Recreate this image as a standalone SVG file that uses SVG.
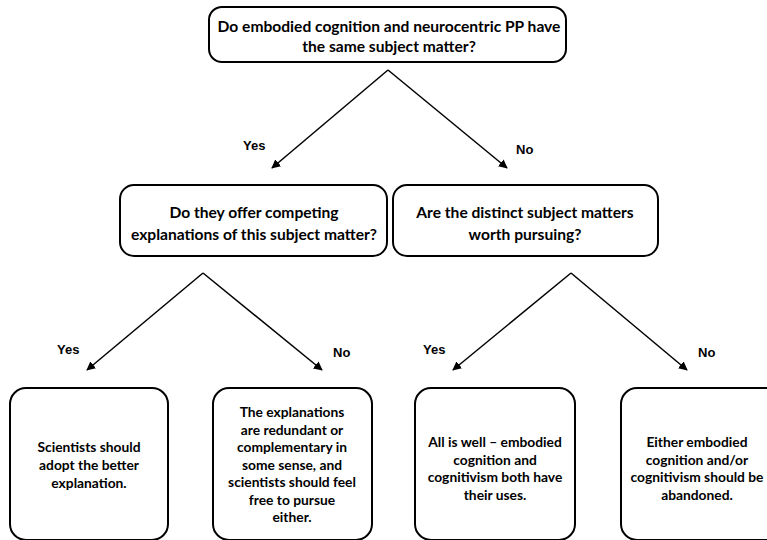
<svg xmlns="http://www.w3.org/2000/svg" width="767" height="540" viewBox="0 0 767 540">
  <style>
    .box { fill: #fff; stroke: #000; stroke-width: 2; }
    .q { font-family: Lato, "Open Sans", sans-serif; font-weight: bold; font-size: 15.6px; text-anchor: middle; fill: #000; }
    .a { font-family: Lato, "Open Sans", sans-serif; font-weight: bold; font-size: 13.8px; text-anchor: middle; fill: #000; }
    .lbl { font-family: "Liberation Sans", Arial, sans-serif; font-weight: bold; font-size: 13px; fill: #000; }
    .edge { stroke: #000; stroke-width: 1.5; fill: none; marker-end: url(#arrow); }
  </style>
  <defs>
    <marker id="arrow" viewBox="0 0 10 10" refX="9" refY="5" markerWidth="9" markerHeight="9" markerUnits="userSpaceOnUse" orient="auto">
      <path d="M0,0 L10,5 L0,10 z" fill="#000"/>
    </marker>
  </defs>
  <rect width="767" height="540" fill="#fff"/>

  <g id="connectors">
    <path class="edge" d="M388,70 L272,168"/>
    <path class="edge" d="M388,70 L507,168"/>
    <path class="edge" d="M203,273 L87,370"/>
    <path class="edge" d="M203,273 L322,370"/>
    <path class="edge" d="M571,273 L453,370"/>
    <path class="edge" d="M571,273 L687,370"/>
    <text class="lbl" x="243" y="150">Yes</text>
    <text class="lbl" x="516" y="154">No</text>
    <text class="lbl" x="57" y="354">Yes</text>
    <text class="lbl" x="333" y="357">No</text>
    <text class="lbl" x="423" y="354">Yes</text>
    <text class="lbl" x="698" y="357">No</text>
  </g>

  <g id="q-same-subject">
    <rect class="box" x="209" y="7" width="357" height="55" rx="13"/>
    <text class="q" x="389" y="32">Do embodied cognition and neurocentric PP have</text>
    <text class="q" x="389" y="52">the same subject matter?</text>
  </g>

  <g id="q-competing">
    <rect class="box" x="120" y="185" width="267" height="71" rx="14"/>
    <text class="q" x="254" y="218">Do they offer competing</text>
    <text class="q" x="254" y="240">explanations of this subject matter?</text>
  </g>

  <g id="q-worth-pursuing">
    <rect class="box" x="393" y="185" width="265" height="71" rx="14"/>
    <text class="q" x="525" y="218">Are the distinct subject matters</text>
    <text class="q" x="525" y="240">worth pursuing?</text>
  </g>

  <g id="a-adopt-better">
    <rect class="box" x="10" y="388" width="158" height="152" rx="16"/>
    <text class="a" x="89" y="452">Scientists should</text>
    <text class="a" x="89" y="470">adopt the better</text>
    <text class="a" x="89" y="488">explanation.</text>
  </g>

  <g id="a-redundant">
    <rect class="box" x="213" y="388" width="159" height="152" rx="16"/>
    <text class="a" x="292" y="417">The explanations</text>
    <text class="a" x="292" y="434.5">are redundant or</text>
    <text class="a" x="292" y="452">complementary in</text>
    <text class="a" x="292" y="469.5">some sense, and</text>
    <text class="a" x="292" y="487">scientists should feel</text>
    <text class="a" x="292" y="504.5">free to pursue</text>
    <text class="a" x="292" y="522">either.</text>
  </g>

  <g id="a-all-well">
    <rect class="box" x="415" y="388" width="160" height="152" rx="16"/>
    <text class="a" x="495" y="447">All is well – embodied</text>
    <text class="a" x="495" y="464.5">cognition and</text>
    <text class="a" x="495" y="482">cognitivism both have</text>
    <text class="a" x="495" y="499.5">their uses.</text>
  </g>

  <g id="a-abandon">
    <rect class="box" x="621" y="388" width="170" height="152" rx="16"/>
    <text class="a" x="697" y="447">Either embodied</text>
    <text class="a" x="697" y="464.5">cognition and/or</text>
    <text class="a" x="697" y="482">cognitivism should be</text>
    <text class="a" x="697" y="499.5">abandoned.</text>
  </g>
</svg>
